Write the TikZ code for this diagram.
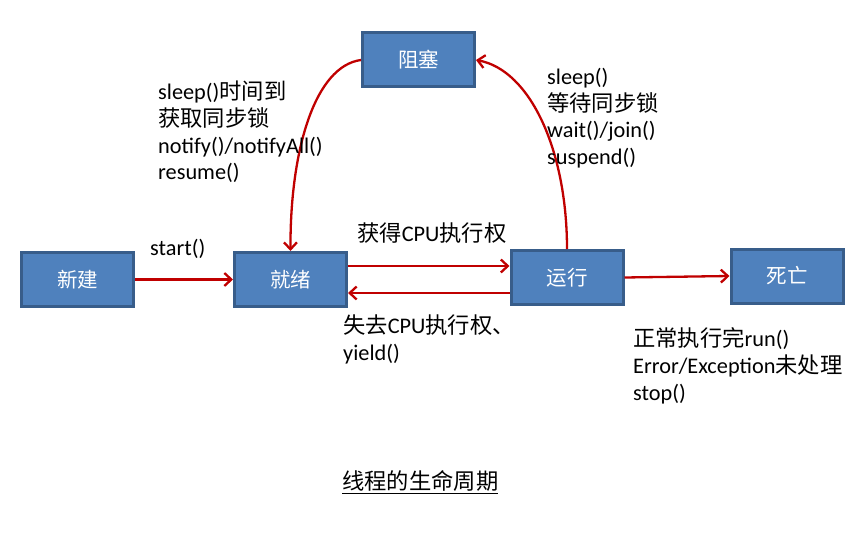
\documentclass[tikz,border=0pt]{standalone}
\usepackage{fontspec}
\setmainfont{Carlito}
\newfontfamily\cjk{Noto Sans CJK SC}
\newcommand{\cj}[1]{{\cjk #1}}
\usetikzlibrary{arrows.meta}
\definecolor{boxfill}{HTML}{4F81BD}
\definecolor{boxline}{HTML}{385D8A}
\definecolor{arr}{HTML}{C00000}
\tikzset{
  state/.style={draw=boxline, line width=3pt, fill=boxfill, text=white, minimum width=112pt, minimum height=54pt, inner sep=0pt, font=\cjk\fontsize{20.5}{24}\selectfont},
  conn/.style={draw=arr, line width=2.3pt, -{Straight Barb[length=7pt,width=13pt,line width=2.3pt]}},
  lbl/.style={anchor=west, align=left, inner sep=0pt, font=\fontsize{22.3}{26.7}\selectfont}
}
\begin{document}
\begin{tikzpicture}[x=1pt,y=-1pt]
\useasboundingbox (0,0) rectangle (865,535);
\node[state] (new) at (77.5,279.5) {新建};
\node[state] (ready) at (290.5,279.5) {就绪};
\node[state] (run) at (567,277.5) {运行};
\node[state] (dead) at (787,276) {死亡};
\node[state] (block) at (418.5,60) {阻塞};
\draw[conn] (new.east) -- (ready.west);
\draw[conn] (ready.east |- 0,266) -- (run.west |- 0,266);
\draw[conn] (run.west |- 0,293) -- (ready.east |- 0,293);
\draw[conn] (run.east) -- (dead.west);
\draw[conn] (block.west) .. controls (315,66) and (290,150) .. (ready.north);
\draw[conn] (run.north) .. controls (567,150) and (530,70) .. (block.east);
\node[lbl] (tstart) at (150,249) {start()};
\node[lbl] (tunblock) at (158,132) {sleep()\cj{时间到}\\ \cj{获取同步锁}\\ notify()/notifyAll()\\ resume()};
\node[lbl] (tblock) at (547,118) {sleep()\\ \cj{等待同步锁}\\ wait()/join()\\ suspend()};
\node[lbl] (tget) at (357,233) {\cj{获得}CPU\cj{执行权}};
\node[lbl] (tlose) at (343,339.5) {\cj{失去}CPU\cj{执行权、}\\ yield()};
\node[lbl] (tdead) at (633,366) {\cj{正常执行完}run()\\ Error/Exception\cj{未处理}\\ stop()};
\node[lbl] (ttitle) at (342,482) {\underline{\cj{线程的生命周期}}};
\end{tikzpicture}
\end{document}
